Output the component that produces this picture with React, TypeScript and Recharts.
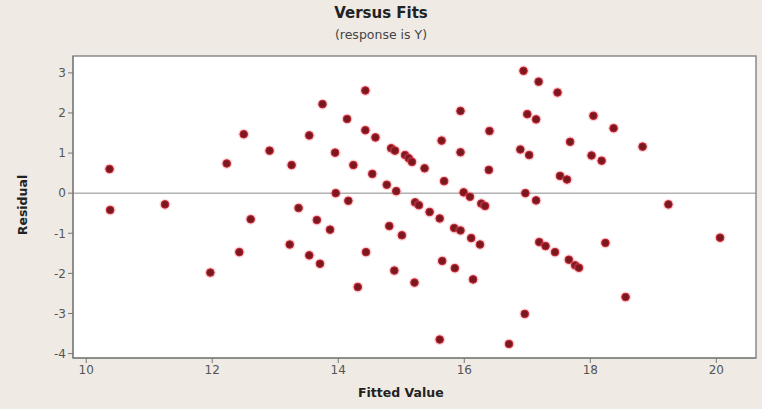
import React from "react"
import {
  ScatterChart,
  Scatter,
  XAxis,
  YAxis,
  ReferenceLine,
  ReferenceArea,
} from "recharts"

// fitted values (x) and residuals (y)
const fitted = [
  10.37, 10.38, 11.25, 11.97, 12.23, 12.43, 12.5, 12.61, 12.91, 13.23,
  13.26, 13.37, 13.54, 13.54, 13.66, 13.71, 13.75, 13.87, 13.95, 13.96,
  14.14, 14.16, 14.24, 14.31, 14.43, 14.43, 14.44, 14.54, 14.59, 14.77,
  14.81, 14.84, 14.89, 14.9, 14.92, 15.01, 15.06, 15.12, 15.17, 15.21,
  15.22, 15.28, 15.37, 15.45, 15.61, 15.61, 15.64, 15.65, 15.68, 15.84,
  15.85, 15.94, 15.94, 15.94, 15.99, 16.09, 16.11, 16.14, 16.25, 16.27,
  16.33, 16.39, 16.4, 16.71, 16.89, 16.94, 16.96, 16.97, 17.0, 17.03,
  17.14, 17.14, 17.18, 17.19, 17.29, 17.44, 17.48, 17.52, 17.63, 17.66,
  17.68, 17.76, 17.82, 18.02, 18.05, 18.18, 18.24, 18.37, 18.56, 18.83,
  19.24, 20.06,
]

const residuals = [
  0.6, -0.42, -0.28, -1.98, 0.74, -1.47, 1.47, -0.65, 1.06, -1.28,
  0.7, -0.37, 1.44, -1.55, -0.67, -1.76, 2.22, -0.91, 1.01, 0.0,
  1.85, -0.19, 0.7, -2.34, 2.56, 1.57, -1.47, 0.48, 1.39, 0.21,
  -0.82, 1.12, -1.93, 1.06, 0.05, -1.05, 0.95, 0.87, 0.78, -2.23,
  -0.23, -0.3, 0.62, -0.47, -0.63, -3.65, 1.31, -1.69, 0.3, -0.87,
  -1.87, 2.05, 1.02, -0.93, 0.02, -0.09, -1.12, -2.15, -1.28, -0.26,
  -0.32, 0.58, 1.55, -3.76, 1.09, 3.05, -3.01, 0.0, 1.97, 0.95,
  1.84, -0.18, 2.78, -1.22, -1.32, -1.47, 2.51, 0.43, 0.34, -1.66,
  1.28, -1.8, -1.86, 0.94, 1.93, 0.81, -1.24, 1.62, -2.59, 1.16,
  -0.28, -1.11,
]

const xTicks = [10, 12, 14, 16, 18, 20]
const yTicks = [-4, -3, -2, -1, 0, 1, 2, 3]

const points = fitted.map((x, i) => ({ x, y: residuals[i] }))

const X_DOMAIN: [number, number] = [9.79, 20.63]
const Y_DOMAIN: [number, number] = [-4.11, 3.42]

const Dot = (props: any) => {
  const { cx, cy } = props
  return (
    <g>
      <circle cx={cx} cy={cy} r={5.5} fill="#f0707c" opacity={0.3} />
      <circle cx={cx} cy={cy} r={3.8} fill="#7a1820" stroke="#c42232" strokeWidth={1} />
    </g>
  )
}

const tickStyle = { fontSize: 12, fill: "#555", fontFamily: "DejaVu Sans, sans-serif" }

export default function App() {
  return (
    <div
      style={{
        position: "absolute",
        left: 0,
        top: 0,
        width: 762,
        height: 409,
        background: "#efeae4",
        fontFamily: "DejaVu Sans, sans-serif",
      }}
    >
      <div
        style={{
          position: "absolute",
          top: 4,
          width: 762,
          textAlign: "center",
          fontSize: 15,
          fontWeight: "bold",
          color: "#222",
        }}
      >
        Versus Fits
      </div>
      <div
        style={{
          position: "absolute",
          top: 27,
          width: 762,
          textAlign: "center",
          fontSize: 12.5,
          color: "#444",
        }}
      >
        (response is Y)
      </div>
      <div
        style={{
          position: "absolute",
          left: 358,
          top: 385,
          fontSize: 12.5,
          fontWeight: "bold",
          color: "#222",
        }}
      >
        Fitted Value
      </div>
      <div
        style={{
          position: "absolute",
          left: 22,
          top: 205,
          transform: "translate(-50%, -50%) rotate(-90deg)",
          fontSize: 12.5,
          fontWeight: "bold",
          color: "#222",
        }}
      >
        Residual
      </div>
      <ScatterChart
        width={762}
        height={409}
        margin={{ top: 56, right: 6, bottom: 0, left: 0 }}
        style={{ position: "absolute", left: 0, top: 0 }}
      >
        <XAxis
          type="number"
          dataKey="x"
          domain={X_DOMAIN}
          ticks={xTicks}
          height={51}
          tick={tickStyle}
          tickSize={5}
          tickLine={{ stroke: "#777" }}
          axisLine={{ stroke: "#777" }}
          allowDataOverflow
        />
        <YAxis
          type="number"
          dataKey="y"
          domain={Y_DOMAIN}
          ticks={yTicks}
          width={73}
          tick={tickStyle}
          tickSize={5}
          tickLine={{ stroke: "#777" }}
          axisLine={{ stroke: "#777" }}
          allowDataOverflow
        />
        <ReferenceArea
          x1={X_DOMAIN[0]}
          x2={X_DOMAIN[1]}
          y1={Y_DOMAIN[0]}
          y2={Y_DOMAIN[1]}
          fill="#ffffff"
          fillOpacity={1}
          stroke="#8a8a8a"
          strokeWidth={1.5}
        />
        <ReferenceLine y={0} stroke="#8a8a8a" strokeWidth={1} />
        <Scatter data={points} shape={<Dot />} isAnimationActive={false} />
      </ScatterChart>
    </div>
  )
}
